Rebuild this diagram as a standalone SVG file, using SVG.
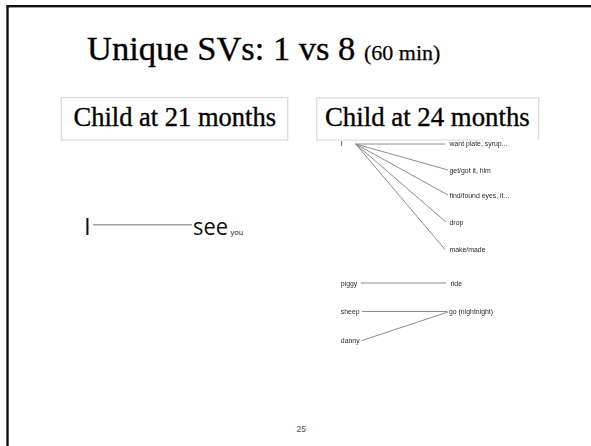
<svg xmlns="http://www.w3.org/2000/svg" width="591" height="446" viewBox="0 0 591 446">
  <style>
    .frame { fill: none; stroke: #111; stroke-width: 2.4; }
    .serif { font-family: "Liberation Serif", "Times New Roman", serif; fill: #000; stroke: #000; stroke-width: 0.35; }
    .box { fill: #fff; stroke: #d9d9d9; stroke-width: 1.2; }
    .big { font-family: "Open Sans", "Liberation Sans", Arial, sans-serif; fill: #111; }
    .small { font-family: "Liberation Sans", Arial, sans-serif; font-size: 6.9px; fill: #2a2a2a; }
    .edge { stroke: #8c8c8c; stroke-width: 1; fill: none; }
    .edge-big { stroke: #a0a0a0; stroke-width: 1.4; fill: none; }
    .pagenum { font-family: "Liberation Sans", Arial, sans-serif; font-size: 8.5px; fill: #555; }
  </style>
  <defs>
    <filter id="soft" x="-5%" y="-5%" width="110%" height="110%">
      <feGaussianBlur stdDeviation="0.35"/>
    </filter>
  </defs>

  <rect width="591" height="446" fill="#fff"/>
  <!-- slide frame: only left and top edges fall inside the view -->
  <rect class="frame" x="7.5" y="6.2" width="600" height="460"/>

  <!-- heading -->
  <g id="title">
    <text class="serif" x="87" y="60" font-size="34.5">Unique SVs: 1 vs 8 <tspan font-size="22" stroke-width="0.25">(60 min)</tspan></text>
  </g>

  <!-- column headers -->
  <g id="header-21">
    <rect class="box" x="61.3" y="97.5" width="226.4" height="42.5"/>
    <text class="serif" x="73.5" y="126" font-size="26.5">Child at 21 months</text>
  </g>
  <g id="header-24">
    <path class="box" d="M483 140 H316.8 V97.8 H538.7 V140" fill="none"/>
    <text class="serif" x="325" y="126" font-size="26.8">Child at 24 months</text>
  </g>

  <!-- connectors -->
  <g id="connectors">
    <line class="edge-big" x1="93" y1="224.7" x2="192" y2="224.7"/>
    <g filter="url(#soft)">
      <line class="edge" x1="355.7" y1="144" x2="445" y2="144"/>
      <line class="edge" x1="355.7" y1="144" x2="448" y2="170"/>
      <line class="edge" x1="355.7" y1="144" x2="448" y2="195"/>
      <line class="edge" x1="355.7" y1="144" x2="446" y2="222"/>
      <line class="edge" x1="355.7" y1="144" x2="445" y2="249.5"/>
      <line class="edge" x1="360.7" y1="283" x2="446" y2="283"/>
      <line class="edge" x1="362" y1="311.5" x2="447" y2="311.5"/>
      <line class="edge" x1="362" y1="340.5" x2="448" y2="312"/>
    </g>
  </g>

  <!-- 21 months: I — see you -->
  <g id="n-I-21">
    <text class="big" x="84" y="235" font-size="24">I</text>
  </g>
  <g id="n-see">
    <text class="big" x="193" y="235" font-size="24" textLength="35" lengthAdjust="spacingAndGlyphs">see</text>
    <text class="big" x="230.5" y="235" font-size="7.5">you</text>
  </g>

  <!-- 24 months -->
  <g filter="url(#soft)">
    <g id="n-I-24"><text class="small" x="340.8" y="146.4">I</text></g>
    <g id="n-want"><text class="small" x="449.5" y="146.4">want plate, syrup...</text></g>
    <g id="n-get"><text class="small" x="449.5" y="172.6">get/got it, him</text></g>
    <g id="n-find"><text class="small" x="449.5" y="197.6">find/found eyes, it...</text></g>
    <g id="n-drop"><text class="small" x="449.5" y="225">drop</text></g>
    <g id="n-make"><text class="small" x="449.5" y="252.4">make/made</text></g>
    <g id="n-piggy"><text class="small" x="340.8" y="285.6">piggy</text></g>
    <g id="n-ride"><text class="small" x="450.5" y="285.6">ride</text></g>
    <g id="n-sheep"><text class="small" x="340.8" y="314">sheep</text></g>
    <g id="n-go"><text class="small" x="449" y="314">go (nightnight)</text></g>
    <g id="n-danny"><text class="small" x="340.8" y="343">danny</text></g>
  </g>

  <text class="pagenum" x="296.5" y="432.3">25</text>
</svg>
